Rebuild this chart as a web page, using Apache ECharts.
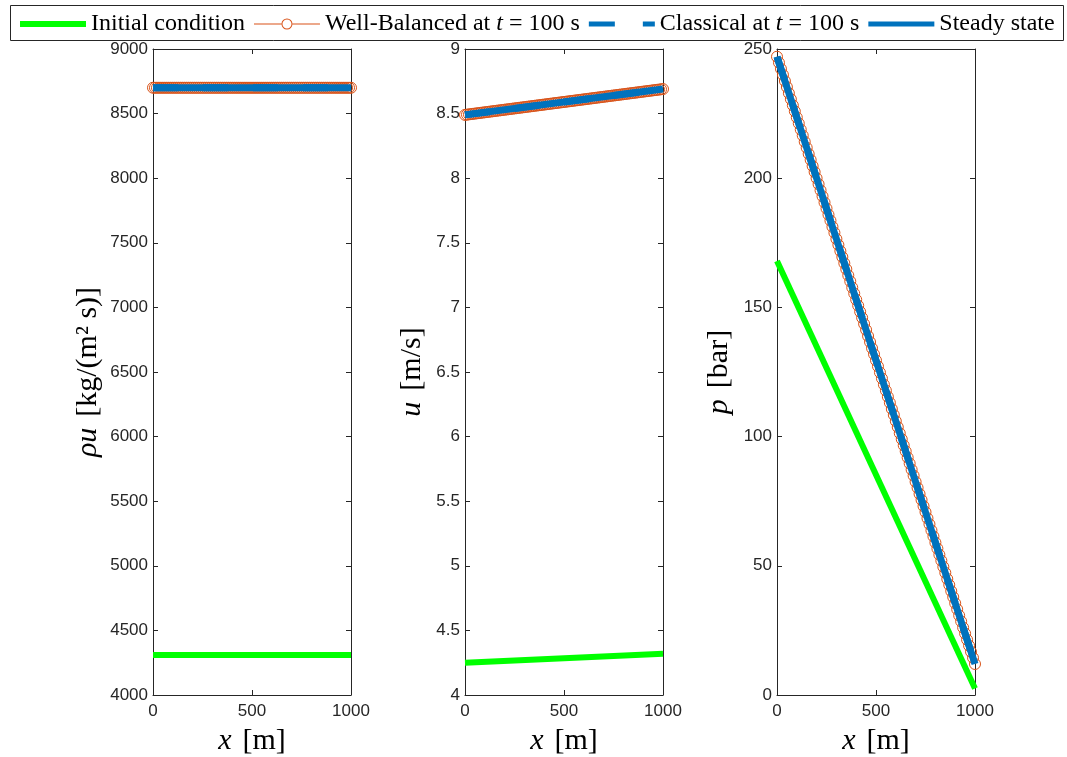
<!DOCTYPE html>
<html>
<head>
<meta charset="utf-8">
<script src="https://cdn.jsdelivr.net/npm/echarts@6/dist/echarts.min.js"></script>
<style>
html, body { margin: 0; padding: 0; background: #fff; }
#chart { width: 1067px; height: 757px; }
</style>
</head>
<body>
<div id="chart"></div>
<script>
// cell positions of the well-balanced solution [m]
const xCells = [
  0, 10, 20, 30, 40, 50, 60, 70, 80, 90,
  100, 110, 120, 130, 140, 150, 160, 170, 180, 190,
  200, 210, 220, 230, 240, 250, 260, 270, 280, 290,
  300, 310, 320, 330, 340, 350, 360, 370, 380, 390,
  400, 410, 420, 430, 440, 450, 460, 470, 480, 490,
  500, 510, 520, 530, 540, 550, 560, 570, 580, 590,
  600, 610, 620, 630, 640, 650, 660, 670, 680, 690,
  700, 710, 720, 730, 740, 750, 760, 770, 780, 790,
  800, 810, 820, 830, 840, 850, 860, 870, 880, 890,
  900, 910, 920, 930, 940, 950, 960, 970, 980, 990,
  1000
];
const xEnds = [0, 1000];

// rho*u [kg/(m^2 s)]
const rhouWB = [
  8700, 8700, 8700, 8700, 8700, 8700, 8700, 8700, 8700, 8700,
  8700, 8700, 8700, 8700, 8700, 8700, 8700, 8700, 8700, 8700,
  8700, 8700, 8700, 8700, 8700, 8700, 8700, 8700, 8700, 8700,
  8700, 8700, 8700, 8700, 8700, 8700, 8700, 8700, 8700, 8700,
  8700, 8700, 8700, 8700, 8700, 8700, 8700, 8700, 8700, 8700,
  8700, 8700, 8700, 8700, 8700, 8700, 8700, 8700, 8700, 8700,
  8700, 8700, 8700, 8700, 8700, 8700, 8700, 8700, 8700, 8700,
  8700, 8700, 8700, 8700, 8700, 8700, 8700, 8700, 8700, 8700,
  8700, 8700, 8700, 8700, 8700, 8700, 8700, 8700, 8700, 8700,
  8700, 8700, 8700, 8700, 8700, 8700, 8700, 8700, 8700, 8700,
  8700
];
const rhouInit = [4310, 4310];
const rhouClassical = [8700, 8700];
const rhouSteady = [8700, 8700];

// u [m/s]
const uWB = [
  8.49, 8.492, 8.494, 8.496, 8.498, 8.5, 8.502, 8.504, 8.506, 8.508,
  8.51, 8.512, 8.514, 8.516, 8.518, 8.52, 8.522, 8.524, 8.526, 8.528,
  8.53, 8.532, 8.534, 8.536, 8.538, 8.54, 8.542, 8.544, 8.546, 8.548,
  8.55, 8.552, 8.554, 8.556, 8.558, 8.56, 8.562, 8.564, 8.566, 8.568,
  8.57, 8.572, 8.574, 8.576, 8.578, 8.58, 8.582, 8.584, 8.586, 8.588,
  8.59, 8.592, 8.594, 8.596, 8.598, 8.6, 8.602, 8.604, 8.606, 8.608,
  8.61, 8.612, 8.614, 8.616, 8.618, 8.62, 8.622, 8.624, 8.626, 8.628,
  8.63, 8.632, 8.634, 8.636, 8.638, 8.64, 8.642, 8.644, 8.646, 8.648,
  8.65, 8.652, 8.654, 8.656, 8.658, 8.66, 8.662, 8.664, 8.666, 8.668,
  8.67, 8.672, 8.674, 8.676, 8.678, 8.68, 8.682, 8.684, 8.686, 8.688,
  8.69
];
const uInit = [4.25, 4.32];
const uClassical = [8.49, 8.69];
const uSteady = [8.49, 8.69];

// p [bar]
const pWB = [
  247, 244.7, 242.3, 240, 237.6, 235.3, 232.9, 230.6, 228.2, 225.9,
  223.5, 221.2, 218.8, 216.5, 214.1, 211.8, 209.4, 207.1, 204.7, 202.4,
  200, 197.7, 195.3, 193, 190.6, 188.3, 185.9, 183.6, 181.2, 178.9,
  176.5, 174.2, 171.8, 169.5, 167.1, 164.8, 162.4, 160.1, 157.7, 155.4,
  153, 150.7, 148.3, 146, 143.6, 141.3, 138.9, 136.6, 134.2, 131.9,
  129.5, 127.2, 124.8, 122.5, 120.1, 117.8, 115.4, 113.1, 110.7, 108.4,
  106, 103.7, 101.3, 99, 96.6, 94.3, 91.9, 89.6, 87.2, 84.9,
  82.5, 80.2, 77.8, 75.5, 73.1, 70.8, 68.4, 66.1, 63.7, 61.4,
  59, 56.7, 54.3, 52, 49.6, 47.3, 44.9, 42.6, 40.2, 37.9,
  35.5, 33.2, 30.8, 28.5, 26.1, 23.8, 21.4, 19.1, 16.7, 14.4,
  12
];
const pInit = [168, 2.5];
const pClassical = [247, 12];
const pSteady = [247, 12];

const seriesNames = ['Initial condition', 'Well-Balanced at t = 100 s', 'Classical at t = 100 s', 'Steady state'];

const green = '#00FF00';
const orange = '#D95319';
const blue = '#0072BD';
const axisColor = '#262626';
const serif = 'Liberation Serif';
const sans = 'Liberation Sans';

const panels = [
  { left: 153, min: 4000, max: 9000, interval: 500, name: '{i|ρu}{sp|}{r|[kg/(m² s)]}', nameGap: 50,
    wb: rhouWB, init: rhouInit, classical: rhouClassical, steady: rhouSteady },
  { left: 465, min: 4, max: 9, interval: 0.5, name: '{i|u}{sp|}{r|[m/s]}', nameGap: 38,
    wb: uWB, init: uInit, classical: uClassical, steady: uSteady },
  { left: 777, min: 0, max: 250, interval: 50, name: '{i|p}{sp|}{r|[bar]}', nameGap: 43,
    wb: pWB, init: pInit, classical: pClassical, steady: pSteady }
];

const nameRich = {
  r: { fontFamily: serif, fontSize: 30, color: '#000' },
  i: { fontFamily: serif, fontSize: 30, fontStyle: 'italic', color: '#000' },
  sp: { width: 11 }
};

const pair = (xs, ys) => xs.map((x, k) => [x, ys[k]]);

const axisLine = { show: true, onZero: false, lineStyle: { color: axisColor, width: 1 } };
const axisTick = { show: true, inside: true, length: 5, lineStyle: { color: axisColor, width: 1 } };
const tickLabel = { color: axisColor, fontFamily: sans, fontSize: 17, formatter: v => String(v) };

const grid = [], xAxis = [], yAxis = [], series = [];

panels.forEach((pn, i) => {
  grid.push({ left: pn.left, top: 49, width: 198, height: 646, outerBoundsMode: 'none', containLabel: false });
  xAxis.push({
    type: 'value', gridIndex: i, min: 0, max: 1000, interval: 500,
    axisLine, axisTick, splitLine: { show: false },
    axisLabel: Object.assign({ margin: 8 }, tickLabel),
    name: '{i|x}{sp|}{r|[m]}', nameLocation: 'middle', nameGap: 31,
    nameTextStyle: { rich: nameRich }
  });
  xAxis.push({
    type: 'value', gridIndex: i, position: 'top', min: 0, max: 1000, interval: 500,
    axisLine, axisTick, splitLine: { show: false }, axisLabel: { show: false }
  });
  yAxis.push({
    type: 'value', gridIndex: i, min: pn.min, max: pn.max, interval: pn.interval,
    axisLine, axisTick, splitLine: { show: false },
    axisLabel: Object.assign({ margin: 5 }, tickLabel),
    name: pn.name, nameLocation: 'middle', nameGap: pn.nameGap,
    nameTextStyle: { rich: nameRich }
  });
  yAxis.push({
    type: 'value', gridIndex: i, position: 'right', min: pn.min, max: pn.max, interval: pn.interval,
    axisLine, axisTick, splitLine: { show: false }, axisLabel: { show: false }
  });

  const ax = { xAxisIndex: 2 * i, yAxisIndex: 2 * i };
  series.push(Object.assign({
    name: seriesNames[0], type: 'line', data: pair(xEnds, pn.init),
    showSymbol: false, symbol: 'none', z: 2,
    lineStyle: { color: green, width: 6, cap: 'butt' }, itemStyle: { color: green }
  }, ax));
  series.push(Object.assign({
    name: seriesNames[1], type: 'line', data: pair(xCells, pn.wb),
    symbol: 'circle', symbolSize: 11, showAllSymbol: true, clip: false, z: 2,
    lineStyle: { color: orange, width: 1 },
    itemStyle: { color: 'rgba(0,0,0,0)', borderColor: orange, borderWidth: 1 }
  }, ax));
  series.push(Object.assign({
    name: seriesNames[2], type: 'line', data: pair(xEnds, pn.classical),
    showSymbol: false, symbol: 'none', z: 3,
    lineStyle: { color: blue, width: 7, type: [25, 25], cap: 'butt' }, itemStyle: { color: blue }
  }, ax));
  series.push(Object.assign({
    name: seriesNames[3], type: 'line', data: pair(xEnds, pn.steady),
    showSymbol: false, symbol: 'none', z: 4,
    lineStyle: { color: blue, width: 7, cap: 'butt' }, itemStyle: { color: blue }
  }, ax));
});

// legend icons drawn in a 66 x 12 box (the leading moves fix the box)
const iconInit = 'path://M0,0M66,12M0,3h66v6h-66z';
const iconWB = 'path://M0,0M66,12M0,5.5h27.5v1h-27.5z M38.5,5.5h27.5v1h-27.5z' +
  'M27.5,6a5.5,5.5 0 1,0 11,0a5.5,5.5 0 1,0 -11,0z M28.5,6a4.5,4.5 0 1,1 9,0a4.5,4.5 0 1,1 -9,0z';
const iconClassical = 'path://M0,0M66,12M0,3.5h26v5h-26z M54,3.5h12v5h-12z';
const iconSteady = 'path://M0,0M66,12M0,3.5h66v5h-66z';

const legendRich = {
  r: { fontFamily: serif, fontSize: 24, color: '#000' },
  i: { fontFamily: serif, fontSize: 24, fontStyle: 'italic', color: '#000' }
};

const chart = echarts.init(document.getElementById('chart'), null, { renderer: 'canvas' });

chart.setOption({
  animation: false,
  backgroundColor: '#fff',
  graphic: [{
    type: 'rect', z: 0,
    shape: { x: 10.5, y: 5.5, width: 1053, height: 35 },
    style: { fill: '#fff', stroke: axisColor, lineWidth: 1 }
  }],
  legend: {
    left: 15, top: 7, itemWidth: 66, itemHeight: 12, itemGap: 9, selectedMode: false,
    data: [
      { name: seriesNames[0], icon: iconInit, itemStyle: { color: green, borderWidth: 0 } },
      { name: seriesNames[1], icon: iconWB, itemStyle: { color: orange, borderWidth: 0 } },
      { name: seriesNames[2], icon: iconClassical, itemStyle: { color: blue, borderWidth: 0 } },
      { name: seriesNames[3], icon: iconSteady, itemStyle: { color: blue, borderWidth: 0 } }
    ],
    textStyle: { fontFamily: serif, fontSize: 24, color: '#000', rich: legendRich },
    formatter: function (name) {
      if (name === seriesNames[1]) return '{r|Well-Balanced at }{i|t}{r| = 100 s}';
      if (name === seriesNames[2]) return '{r|Classical at }{i|t}{r| = 100 s}';
      return '{r|' + name + '}';
    }
  },
  grid: grid,
  xAxis: xAxis,
  yAxis: yAxis,
  series: series
});
</script>
</body>
</html>
